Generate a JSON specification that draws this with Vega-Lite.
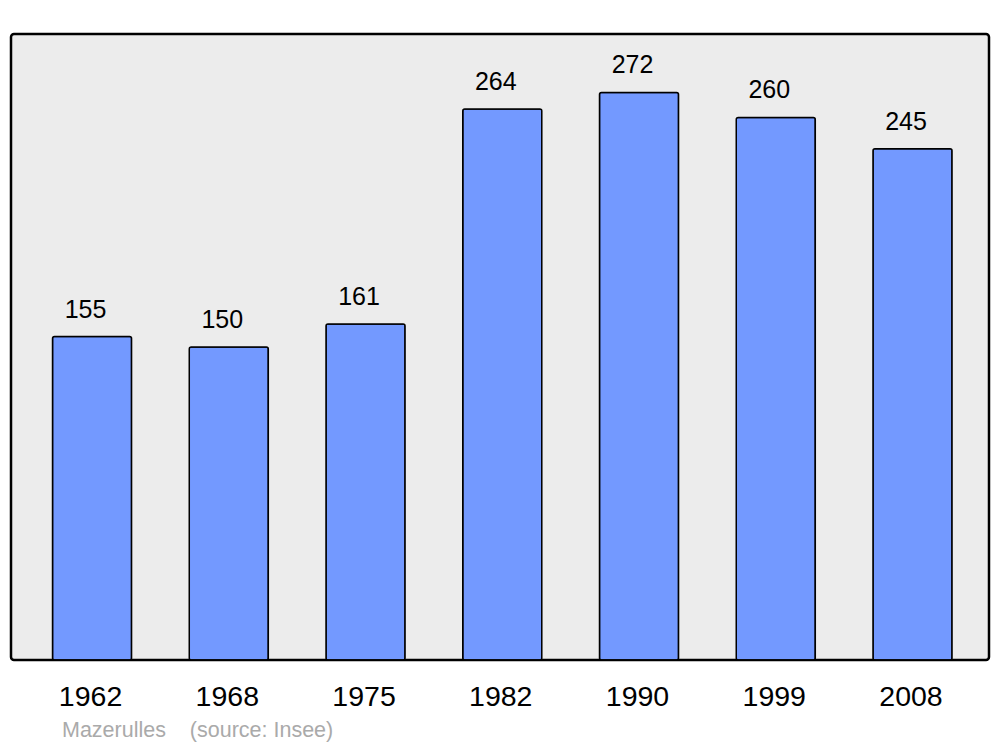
{
  "$schema": "https://vega.github.io/schema/vega-lite/v6.json",
  "width": 978,
  "height": 626,
  "autosize": {"type": "none"},
  "padding": {"left": 11, "top": 34, "right": 11, "bottom": 87},
  "background": "white",
  "data": {"values": [
    {"year": "1962", "population": 155},
    {"year": "1968", "population": 150},
    {"year": "1975", "population": 161},
    {"year": "1982", "population": 264},
    {"year": "1990", "population": 272},
    {"year": "1999", "population": 260},
    {"year": "2008", "population": 245}
  ]},
  "title": {
    "text": "Mazerulles\u00a0\u00a0\u00a0\u00a0(source: Insee)",
    "orient": "bottom",
    "anchor": "start",
    "frame": "group",
    "dx": 51,
    "offset": 9,
    "font": "Liberation Sans",
    "fontSize": 21.5,
    "fontWeight": "normal",
    "color": "#aaaaaa"
  },
  "encoding": {
    "x": {
      "field": "year",
      "type": "nominal",
      "sort": null,
      "scale": {"paddingInner": 0.422, "paddingOuter": 0.287, "align": 0.529},
      "axis": {
        "title": null,
        "domain": false,
        "ticks": false,
        "labelAngle": 0,
        "labelFont": "Liberation Sans",
        "labelFontSize": 28.5,
        "labelColor": "black",
        "labelBaseline": "alphabetic",
        "labelPadding": 45,
        "labelOffset": -1.5
      }
    },
    "y": {
      "field": "population",
      "type": "quantitative",
      "scale": {"domain": [0, 300], "nice": false},
      "axis": null
    }
  },
  "layer": [
    {
      "mark": {"type": "bar", "fill": "#7399ff", "stroke": "black", "strokeWidth": 1.5, "cornerRadius": 2}
    },
    {
      "mark": {"type": "text", "dx": -6.5, "dy": -19, "baseline": "alphabetic", "font": "Liberation Sans", "fontSize": 25, "color": "black"},
      "encoding": {"text": {"field": "population", "type": "quantitative"}}
    }
  ],
  "config": {
    "view": {"fill": "#ececec", "stroke": "black", "strokeWidth": 2.5, "cornerRadius": 3}
  }
}
